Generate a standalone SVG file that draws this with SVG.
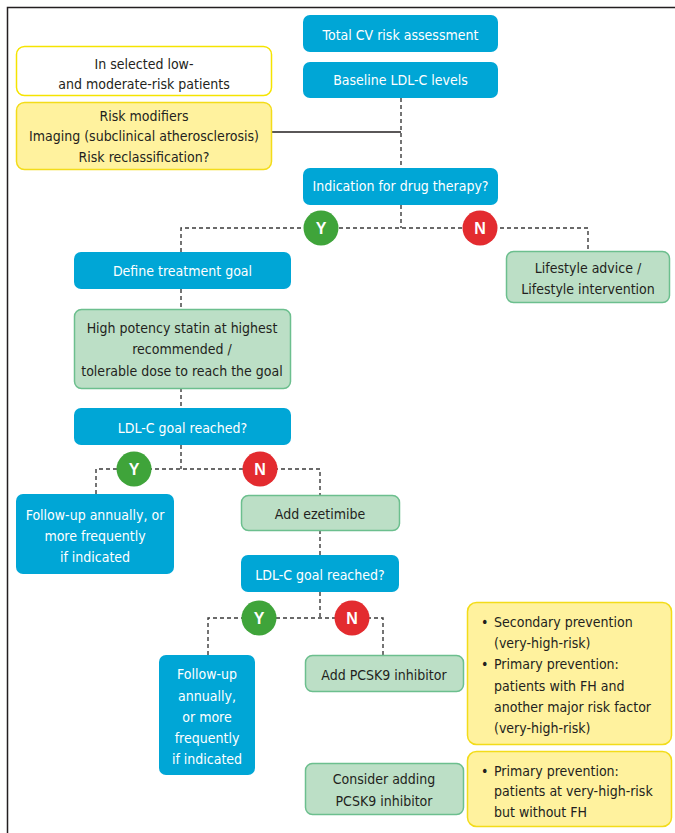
<svg xmlns="http://www.w3.org/2000/svg" width="675" height="833" viewBox="0 0 675 833">
<style>
text{font-family:"Liberation Sans Narrow","DejaVu Sans Condensed","Liberation Sans",sans-serif;font-size:14px;text-anchor:middle}
.blue rect{fill:#00a6d6}
.blue text{fill:#ffffff}
.green rect{fill:#bcdfc6;stroke:#6cbf8e;stroke-width:1.5}
.green text,.yel text,.wht text{fill:#231f20}
.yel rect{fill:#fff29e;stroke:#f3dc1a;stroke-width:1.5}
.wht rect{fill:#ffffff;stroke:#f5e400;stroke-width:1.5}
.lft text{text-anchor:start}
.y circle{fill:#3fa43a}
.n circle{fill:#e32b2f}
.y text,.n text{fill:#ffffff;font-weight:bold;font-size:16px;font-family:"Liberation Sans","DejaVu Sans",sans-serif}
.dash{fill:none;stroke:#3a3a3a;stroke-width:1.4;stroke-dasharray:4 3}
</style>
<path d="M7.5 833V7.5H675" fill="none" stroke="#231f20" stroke-width="1.5"/>
<g id="connectors">
<path class="dash" d="M401 98V168"/>
<path d="M272 132H401" stroke="#231f20" stroke-width="1.4" fill="none"/>
<path class="dash" d="M401 205V228M181 252V228H588V251"/>
<path class="dash" d="M181 289V309M181 388V408"/>
<path class="dash" d="M181 445V469M96 494V469H320V495"/>
<path class="dash" d="M320 530V555"/>
<path class="dash" d="M320 592V618M208 655V618H383V655"/>
</g>
<g id="n_total" class="blue"><rect x="303" y="15" width="195" height="37" rx="7"/><text x="400.5" y="40">Total CV risk assessment</text></g>
<g id="n_baseline" class="blue"><rect x="303" y="62" width="195" height="36" rx="7"/><text x="400.5" y="85">Baseline LDL-C levels</text></g>
<g id="n_selected" class="wht"><rect x="16.5" y="46.5" width="255" height="49" rx="8"/><text x="144" y="69">In selected low-</text><text x="144" y="89">and moderate-risk patients</text></g>
<g id="n_modifiers" class="yel"><rect x="16.5" y="102.5" width="255" height="67" rx="8"/><text x="144" y="121">Risk modifiers</text><text x="144" y="141">Imaging (subclinical  atherosclerosis)</text><text x="144" y="162">Risk reclassification?</text></g>
<g id="n_indication" class="blue"><rect x="303" y="168" width="195" height="37" rx="7"/><text x="400.5" y="191">Indication for drug therapy?</text></g>
<g id="c_y1" class="y"><circle cx="321" cy="228" r="17.5"/><text x="321" y="234">Y</text></g>
<g id="c_n1" class="n"><circle cx="480" cy="228" r="17.5"/><text x="480" y="234">N</text></g>
<g id="n_define" class="blue"><rect x="74" y="252" width="217" height="37" rx="7"/><text x="182.5" y="276">Define treatment goal</text></g>
<g id="n_lifestyle" class="green"><rect x="506.5" y="251.5" width="163" height="51" rx="7"/><text x="588" y="273">Lifestyle advice /</text><text x="588" y="294">Lifestyle intervention</text></g>
<g id="n_statin" class="green"><rect x="74.5" y="309.5" width="216" height="79" rx="7"/><text x="182" y="333">High potency statin at highest</text><text x="182" y="354">recommended /</text><text x="182" y="376">tolerable dose to reach the goal</text></g>
<g id="n_goal1" class="blue"><rect x="74" y="408" width="217" height="37" rx="7"/><text x="182.5" y="433">LDL-C goal reached?</text></g>
<g id="c_y2" class="y"><circle cx="134" cy="469" r="17.5"/><text x="134" y="475">Y</text></g>
<g id="c_n2" class="n"><circle cx="260" cy="469" r="17.5"/><text x="260" y="475">N</text></g>
<g id="n_follow1" class="blue"><rect x="16" y="494" width="158" height="80" rx="7"/><text x="95" y="520">Follow-up  annually, or</text><text x="95" y="541">more  frequently</text><text x="95" y="562">if indicated</text></g>
<g id="n_ezetimibe" class="green"><rect x="241.5" y="495.5" width="158" height="35" rx="7"/><text x="320" y="519">Add ezetimibe</text></g>
<g id="n_goal2" class="blue"><rect x="241" y="555" width="158" height="37" rx="7"/><text x="320" y="580">LDL-C goal reached?</text></g>
<g id="c_y3" class="y"><circle cx="259" cy="618" r="17.5"/><text x="259" y="624">Y</text></g>
<g id="c_n3" class="n"><circle cx="352" cy="618" r="17.5"/><text x="352" y="624">N</text></g>
<g id="n_follow2" class="blue"><rect x="159" y="655" width="96" height="120" rx="7"/><text x="207" y="679">Follow-up</text><text x="207" y="701">annually,</text><text x="207" y="722">or more</text><text x="207" y="743">frequently</text><text x="207" y="764">if indicated</text></g>
<g id="n_pcsk9" class="green"><rect x="305.5" y="655.5" width="158" height="36" rx="7"/><text x="384" y="680">Add  PCSK9  inhibitor</text></g>
<g id="n_consider" class="green"><rect x="305.5" y="763.5" width="158" height="51" rx="7"/><text x="384" y="784">Consider adding</text><text x="384" y="806">PCSK9 inhibitor</text></g>
<g id="n_crit1" class="yel lft"><rect x="467.5" y="602.5" width="204" height="142" rx="9"/><text x="481" y="627">•</text><text x="494" y="627">Secondary prevention</text><text x="494" y="648">(very-high-risk)</text><text x="481" y="669">•</text><text x="494" y="669">Primary prevention:</text><text x="494" y="691">patients with FH and</text><text x="494" y="712">another major risk factor</text><text x="494" y="733">(very-high-risk)</text></g>
<g id="n_crit2" class="yel lft"><rect x="467.5" y="751.5" width="204" height="75" rx="9"/><text x="481" y="776">•</text><text x="494" y="776">Primary prevention:</text><text x="494" y="796">patients at very-high-risk</text><text x="494" y="817">but without FH</text></g>
</svg>
